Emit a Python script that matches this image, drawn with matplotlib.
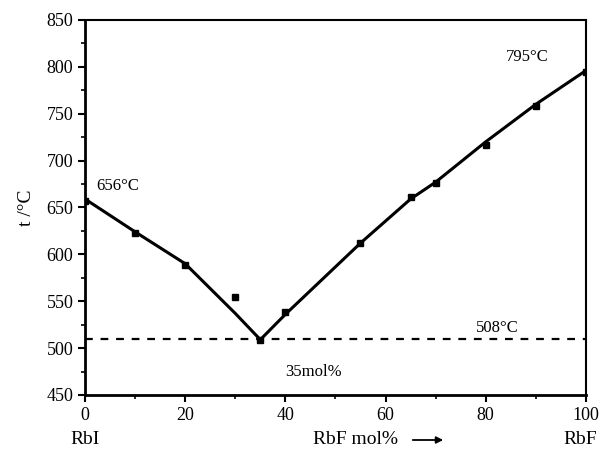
import matplotlib
matplotlib.use("Agg")
import matplotlib.pyplot as plt
from matplotlib.ticker import MultipleLocator

plt.rcParams['font.family'] = ['Liberation Serif', 'DejaVu Serif']

# measured points
x_pts = [0, 10, 20, 30, 35, 40, 55, 65, 70, 80, 90, 100]
t_pts = [657, 623, 589, 554, 509, 538, 612, 661, 676, 717, 758, 795]

# liquidus curve
x_curve = [0, 10, 20, 30, 35, 40, 55, 65, 70, 80, 90, 100]
t_curve = [659, 624, 590, 537, 509, 536, 612, 659, 677, 720, 760, 796]

eutectic_t = 510
eutectic_label = "508°C"

fig = plt.figure(figsize=(5.99, 4.54), dpi=100)
ax = fig.add_axes([0.142, 0.130, 0.836, 0.826])

ax.plot(x_curve, t_curve, color='black', lw=2.2)
ax.plot(x_pts, t_pts, 's', color='black', ms=5)
ax.plot([0, 100], [eutectic_t, eutectic_t], color='black', lw=1.6,
        linestyle=(0, (3.5, 3.5)))

ax.set_xlim(0, 100)
ax.set_ylim(450, 850)
ax.xaxis.set_major_locator(MultipleLocator(20))
ax.xaxis.set_minor_locator(MultipleLocator(10))
ax.yaxis.set_major_locator(MultipleLocator(50))
ax.yaxis.set_minor_locator(MultipleLocator(25))
ax.tick_params(which='major', direction='out', length=5, width=1.5, labelsize=13)
ax.tick_params(which='minor', direction='out', length=3, width=1.2)
for s in ['left', 'bottom']:
    ax.spines[s].set_linewidth(2)
for s in ['top', 'right']:
    ax.spines[s].set_linewidth(1.5)

ax.set_ylabel('t /°C', fontsize=14, labelpad=8)

ax.text(2.2, 673, '656°C', fontsize=12, va='center', ha='left')
ax.text(84, 810, '795°C', fontsize=12, va='center', ha='left')
ax.text(78, 521, eutectic_label, fontsize=12, va='center', ha='left')
ax.text(40, 474, '35mol%', fontsize=12, va='center', ha='left')

fig.text(70 / 599, 1 - 440 / 454, 'RbI', fontsize=14, va='center', ha='left')
fig.text(313 / 599, 1 - 440 / 454, 'RbF mol%', fontsize=14, va='center', ha='left')
fig.text(597 / 599, 1 - 440 / 454, 'RbF', fontsize=14, va='center', ha='right')
fig.add_artist(matplotlib.patches.FancyArrowPatch(
    (410 / 599, 1 - 440 / 454), (446 / 599, 1 - 440 / 454),
    transform=fig.transFigure, arrowstyle='-|>', mutation_scale=10,
    color='black', lw=1.3))

fig.savefig('out.png', dpi=100)
